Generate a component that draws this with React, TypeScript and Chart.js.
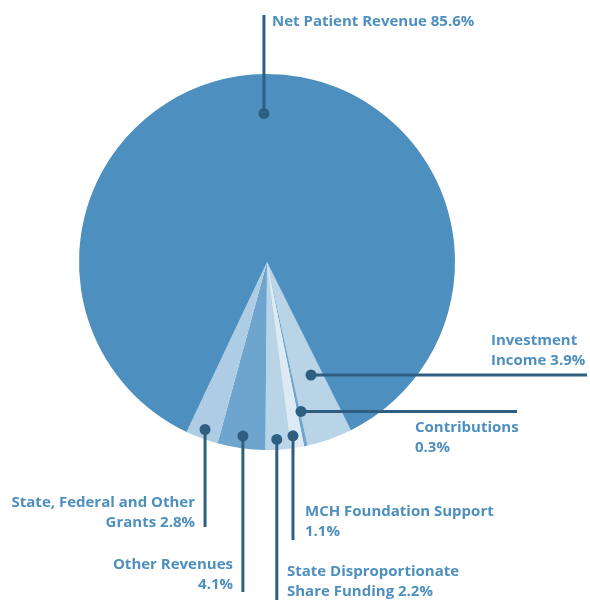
import React, { useEffect, useRef } from "react";
import { Chart, registerables } from "chart.js";

Chart.register(...registerables);

const categories = [
  "Investment Income",
  "Contributions",
  "MCH Foundation Support",
  "State Disproportionate Share Funding",
  "Other Revenues",
  "State, Federal and Other Grants",
  "Net Patient Revenue",
];
const values = [3.9, 0.3, 1.1, 2.2, 4.1, 2.8, 85.6];
const sliceColors = ["#B9D3E7", "#6FA6CF", "#DDEAF4", "#B9D4E7", "#6EA5CE", "#AECCE3", "#4D8FBF"];

// label text lines per slice
const labelLines = [
  ["Investment", "Income 3.9%"],
  ["Contributions", "0.3%"],
  ["MCH Foundation Support", "1.1%"],
  ["State Disproportionate", "Share Funding 2.2%"],
  ["Other Revenues", "4.1%"],
  ["State, Federal and Other", "Grants 2.8%"],
  ["Net Patient Revenue 85.6%"],
];

// layout of leader lines and labels (positions only)
type Layout = {
  frac: number;
  da: number;
  dir: "h" | "v";
  end: number;
  tx: number;
  ty: number;
  align: CanvasTextAlign;
};
const layouts: Layout[] = [
  { frac: 0.645, da: -1.8, dir: "h", end: 587, tx: 491, ty: 341, align: "left" },
  { frac: 0.815, da: -0.9, dir: "h", end: 517, tx: 415, ty: 428, align: "left" },
  { frac: 0.935, da: 0.9, dir: "v", end: 540, tx: 305, ty: 512, align: "left" },
  { frac: 0.945, da: 0.3, dir: "v", end: 600, tx: 287, ty: 572, align: "left" },
  { frac: 0.935, da: 0, dir: "v", end: 592, tx: 233, ty: 565, align: "right" },
  { frac: 0.95, da: 0, dir: "v", end: 527, tx: 195, ty: 503, align: "right" },
  { frac: 0.79, da: -0.6, dir: "v", end: 15, tx: 272, ty: 22, align: "left" },
];

const leaderPlugin = {
  id: "leaders",
  afterDraw(chart: any) {
    const ctx = chart.ctx as CanvasRenderingContext2D;
    const meta = chart.getDatasetMeta(0);
    meta.data.forEach((arc: any, i: number) => {
      const p = arc.getProps(["x", "y", "startAngle", "endAngle", "outerRadius"], true);
      const L = layouts[i];
      const mid = (p.startAngle + p.endAngle) / 2 + (L.da * Math.PI) / 180;
      const dx = p.x + Math.cos(mid) * p.outerRadius * L.frac;
      const dy = p.y + Math.sin(mid) * p.outerRadius * L.frac;
      ctx.save();
      ctx.strokeStyle = "#2F5F80";
      ctx.fillStyle = "#2F5F80";
      ctx.lineWidth = 3;
      ctx.beginPath();
      ctx.moveTo(dx, dy);
      if (L.dir === "h") ctx.lineTo(L.end, dy);
      else ctx.lineTo(dx, L.end);
      ctx.stroke();
      ctx.beginPath();
      ctx.arc(dx, dy, 5.5, 0, Math.PI * 2);
      ctx.fill();
      ctx.fillStyle = "#4D8FBF";
      ctx.font = "bold 15px 'Open Sans', sans-serif";
      ctx.textAlign = L.align;
      ctx.textBaseline = "middle";
      labelLines[i].forEach((t, j) => ctx.fillText(t, L.tx, L.ty + j * 20));
      ctx.restore();
    });
  },
};

export default function App() {
  const ref = useRef<HTMLCanvasElement>(null);
  useEffect(() => {
    const chart = new Chart(ref.current!, {
      type: "pie",
      data: {
        labels: categories,
        datasets: [{ data: values, backgroundColor: sliceColors, borderWidth: 0 }],
      },
      options: {
        animation: false,
        responsive: false,
        rotation: 153.5,
        layout: { padding: { left: 79, top: 74, right: 135, bottom: 150 } },
        plugins: { legend: { display: false }, tooltip: { enabled: false } },
      },
      plugins: [leaderPlugin],
    });
    return () => chart.destroy();
  }, []);
  return (
    <div style={{ position: "fixed", left: 0, top: 0, width: 590, height: 600, background: "#fff" }}>
      <canvas ref={ref} width={590} height={600} />
    </div>
  );
}
